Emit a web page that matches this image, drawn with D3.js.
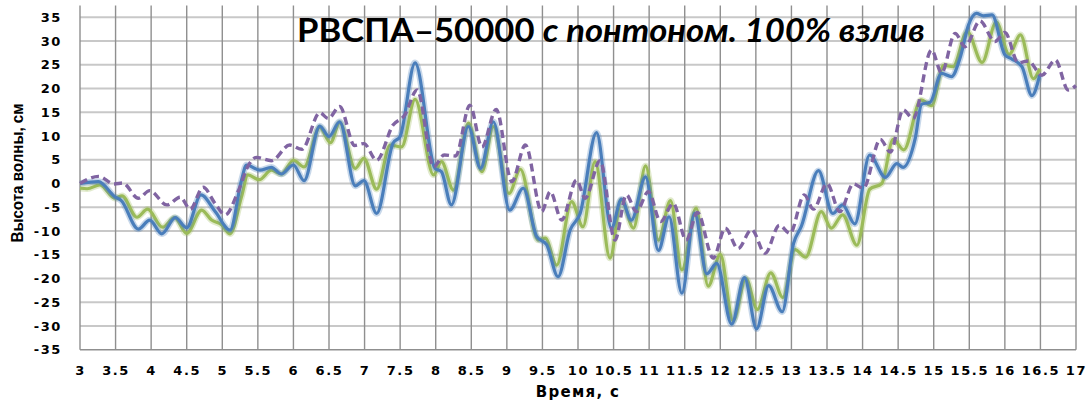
<!DOCTYPE html>
<html>
<head>
<meta charset="utf-8">
<script src="https://cdn.jsdelivr.net/npm/d3@7"></script>
<style>
  html, body { margin: 0; padding: 0; background: #ffffff; }
  svg { display: block; }
</style>
</head>
<body>
<svg id="chart" width="1090" height="401"></svg>
<script>
// Titles
const titlePlain = "РВСПА–50000 ";
const titleItalic = "с понтоном. 100% взлив";
const xAxisTitle = "Время, с";
const yAxisTitle = "Высота волны, см";

// Axis ticks
const xTicks = [3, 3.5, 4, 4.5, 5, 5.5, 6, 6.5, 7, 7.5, 8, 8.5, 9, 9.5, 10, 10.5,
                11, 11.5, 12, 12.5, 13, 13.5, 14, 14.5, 15, 15.5, 16, 16.5, 17];
const yTicks = [-35, -30, -25, -20, -15, -10, -5, 0, 5, 10, 15, 20, 25, 30, 35];

// Green series: time (s) and wave height (cm)
const greenTime = [3.00, 3.10, 3.28, 3.49, 3.59, 3.80, 3.95, 4.16, 4.33, 4.50, 4.71, 4.85, 4.99, 5.11,
  5.27, 5.36, 5.52, 5.69, 5.83, 6.00, 6.15, 6.37, 6.52, 6.65, 6.87, 6.99, 7.17, 7.36, 7.52, 7.71,
  7.97, 8.08, 8.25, 8.46, 8.65, 8.81, 9.03, 9.19, 9.44, 9.54, 9.70, 9.91, 10.07, 10.24, 10.45,
  10.61, 10.78, 10.95, 11.13, 11.30, 11.46, 11.66, 11.83, 12.00, 12.18, 12.36, 12.52, 12.71,
  12.88, 13.05, 13.20, 13.42, 13.56, 13.72, 13.92, 14.10, 14.27, 14.43, 14.58, 14.82, 14.97,
  15.14, 15.27, 15.47, 15.68, 15.88, 16.06, 16.22, 16.40, 16.49];
const greenHeight = [-1.0, -1.1, -0.3, -3.1, -2.6, -7.1, -5.4, -9.2, -7.2, -10.5, -5.6, -7.7, -8.7, -10.6,
  -2.8, 1.8, 0.8, 2.8, 2.0, 4.9, 3.5, 11.8, 8.6, 12.8, 3.2, 5.3, -1.2, 8.1, 7.7, 17.7,
  1.8, 4.6, -1.4, 12.7, 2.5, 12.0, -2.1, 3.0, -11.9, -11.5, -17.2, -3.8, -9.1, 4.6, -15.7,
  -3.5, -9.4, 3.7, -11.9, -3.6, -18.2, -5.2, -21.6, -14.9, -28.9, -20.0, -26.5, -18.8,
  -24.0, -13.9, -15.5, -5.9, -9.4, -6.6, -13.0, -1.2, 0.0, 9.3, 7.1, 17.6, 16.4,
  24.9, 24.6, 32.0, 25.5, 34.0, 27.2, 31.3, 22.1, 24.2];

// Blue series
const blueTime = [3.00, 3.26, 3.49, 3.58, 3.82, 3.98, 4.15, 4.34, 4.50, 4.70, 4.90, 5.11, 5.27, 5.34,
  5.53, 5.69, 5.83, 6.00, 6.15, 6.37, 6.50, 6.65, 6.87, 6.99, 7.17, 7.40, 7.50, 7.71, 7.99,
  8.08, 8.22, 8.46, 8.63, 8.81, 9.04, 9.23, 9.42, 9.56, 9.72, 9.89, 10.03, 10.26, 10.47, 10.61,
  10.75, 10.95, 11.13, 11.28, 11.46, 11.64, 11.81, 11.95, 12.16, 12.34, 12.51, 12.68, 12.87,
  13.03, 13.14, 13.38, 13.58, 13.72, 13.89, 14.10, 14.32, 14.48, 14.57, 14.74, 14.83, 14.95,
  15.11, 15.25, 15.37, 15.49, 15.60, 15.70, 15.82, 16.00, 16.10, 16.24, 16.38, 16.49];
const blueHeight = [0.0, 0.4, -2.8, -3.6, -9.6, -7.7, -10.6, -7.2, -9.3, -2.4, -5.9, -9.8, 0.7, 3.9,
  2.8, 3.4, 2.0, 3.9, 0.6, 12.1, 9.9, 13.0, -0.5, 0.6, -6.3, 8.5, 9.9, 25.4, 3.2,
  2.5, -4.5, 12.0, 3.2, 13.0, -5.6, -1.0, -11.2, -12.9, -19.6, -9.8, -6.3, 10.7, -9.4, -3.3,
  -7.7, 1.4, -14.1, -7.0, -23.1, -6.3, -19.0, -16.8, -29.6, -19.8, -30.6, -21.5, -27.0,
  -12.6, -9.0, 2.7, -6.3, -4.5, -8.5, 6.0, 1.3, 4.2, 3.4, 9.5, 16.7, 17.1,
  23.2, 22.5, 26.4, 33.4, 35.8, 35.3, 35.5, 27.1, 26.2, 24.6, 18.5, 22.8];

// Purple (dashed) series
const purpleTime = [3.00, 3.26, 3.48, 3.60, 3.82, 3.98, 4.22, 4.41, 4.55, 4.73, 4.90, 5.04, 5.23, 5.37,
  5.48, 5.69, 5.95, 6.12, 6.37, 6.49, 6.65, 6.86, 6.99, 7.17, 7.40, 7.56, 7.74, 7.97, 8.12,
  8.28, 8.48, 8.65, 8.85, 9.07, 9.26, 9.49, 9.61, 9.77, 9.98, 10.10, 10.31, 10.52, 10.68,
  10.82, 10.99, 11.16, 11.34, 11.52, 11.68, 11.90, 12.07, 12.25, 12.44, 12.63, 12.83, 12.98,
  13.18, 13.31, 13.50, 13.68, 13.87, 14.01, 14.25, 14.39, 14.57, 14.71, 14.97, 15.11, 15.30,
  15.44, 15.65, 15.86, 16.00, 16.19, 16.33, 16.52, 16.71, 16.89, 17.00];
const purpleHeight = [0.0, 1.5, -0.1, 0.1, -3.1, -1.5, -4.5, -2.9, -5.4, -0.8, -4.2, -6.6, -1.4, 3.9,
  5.5, 4.8, 8.1, 7.2, 14.9, 13.7, 16.2, 8.0, 8.4, 4.9, 12.3, 14.3, 19.7, 3.5, 6.0,
  5.8, 16.5, 7.7, 15.6, 0.4, 8.1, -5.9, -1.7, -7.7, 0.7, -3.1, 4.8, -11.9, -2.4,
  -5.9, -1.7, -8.0, -4.2, -11.9, -6.1, -15.7, -9.4, -13.7, -9.7, -14.7, -8.8, -10.5,
  -2.4, -5.4, 0.0, -5.9, -0.1, -1.0, 9.3, 6.6, 15.5, 13.7, 28.1, 23.3, 31.6,
  28.8, 34.2, 29.9, 31.8, 25.4, 25.8, 22.8, 26.0, 19.7, 20.6];

const svg = d3.select("#chart");
svg.append("rect").attr("width", 1090).attr("height", 401).attr("fill", "#ffffff");

const x = d3.scaleLinear().domain([3, 17]).range([80, 1076]);
const y = d3.scaleLinear().domain([-35, 37.5]).range([349.75, 5.4]);

// Horizontal gridlines (lighter, thicker)
svg.append("g").selectAll("line")
  .data(yTicks.filter(v => v > -35))
  .join("line")
  .attr("x1", x(3)).attr("x2", x(17))
  .attr("y1", d => y(d)).attr("y2", d => y(d))
  .attr("stroke", "#c8c8c8").attr("stroke-width", 2);

// Vertical gridlines
svg.append("g").selectAll("line")
  .data(xTicks)
  .join("line")
  .attr("x1", d => x(d)).attr("x2", d => x(d))
  .attr("y1", y(37.5)).attr("y2", y(-35))
  .attr("stroke", "#8f8f8f").attr("stroke-width", 1.4);

// Bottom axis line
svg.append("line")
  .attr("x1", x(3)).attr("x2", x(17))
  .attr("y1", y(-35)).attr("y2", y(-35))
  .attr("stroke", "#8f8f8f").attr("stroke-width", 1.6);

const tickFont = "'DejaVu Sans', Verdana, sans-serif";

// X axis labels
const xAxis = svg.append("g")
  .attr("transform", `translate(0,${y(-35)})`)
  .call(d3.axisBottom(x).tickValues(xTicks).tickSize(0).tickPadding(16).tickFormat(d => String(d)));
xAxis.select(".domain").remove();
xAxis.selectAll("text")
  .attr("font-family", tickFont).attr("font-weight", "bold").attr("font-size", 13)
  .attr("letter-spacing", 1.6).attr("fill", "#000");

// Y axis labels
const yAxis = svg.append("g")
  .attr("transform", `translate(${x(3)},0)`)
  .call(d3.axisLeft(y).tickValues(yTicks).tickSize(0).tickPadding(18).tickFormat(d => String(d)));
yAxis.select(".domain").remove();
yAxis.selectAll("text")
  .attr("font-family", tickFont).attr("font-weight", "bold").attr("font-size", 13)
  .attr("letter-spacing", 1.6).attr("fill", "#000");

// Axis titles
svg.append("text")
  .attr("x", 578).attr("y", 397)
  .attr("text-anchor", "middle")
  .attr("font-family", tickFont).attr("font-weight", "bold").attr("font-size", 15)
  .attr("letter-spacing", 1.3)
  .text(xAxisTitle);

svg.append("text")
  .attr("transform", "translate(22.5,173) rotate(-90)")
  .attr("text-anchor", "middle")
  .attr("font-family", "'Liberation Sans', Arial, sans-serif").attr("font-weight", "bold")
  .attr("font-size", 17)
  .attr("textLength", 139).attr("lengthAdjust", "spacingAndGlyphs")
  .text(yAxisTitle);

// Series lines
const line = d3.line()
  .x(d => x(d[0]))
  .y(d => y(d[1]))
  .curve(d3.curveMonotoneX);

const series = [
  { name: "green", pts: d3.zip(greenTime, greenHeight), color: "#9bbb59", dash: null },
  { name: "blue", pts: d3.zip(blueTime, blueHeight), color: "#4a7ebb", dash: null },
  { name: "purple", pts: d3.zip(purpleTime, purpleHeight), color: "#8064a2", dash: "8,4.5" }
];

const lines = svg.append("g");
series.forEach(s => {
  if (!s.dash) {
    lines.append("path")
      .attr("d", line(s.pts))
      .attr("fill", "none")
      .attr("stroke", s.color)
      .attr("stroke-opacity", 0.3)
      .attr("stroke-width", 6.5)
      .attr("stroke-linejoin", "round");
  }
  lines.append("path")
    .attr("d", line(s.pts))
    .attr("fill", "none")
    .attr("stroke", s.color)
    .attr("stroke-width", s.dash ? 3.4 : 3.2)
    .attr("stroke-linejoin", "round")
    .attr("stroke-dasharray", s.dash);
});

// Chart title
const title = svg.append("text")
  .attr("x", 297).attr("y", 42)
  .attr("font-family", "Lato, 'Open Sans', sans-serif")
  .attr("font-weight", "bold")
  .attr("font-size", 32)
  .attr("textLength", 628).attr("lengthAdjust", "spacingAndGlyphs")
  .attr("fill", "#000");
title.append("tspan").text(titlePlain);
title.append("tspan").attr("font-style", "italic").text(titleItalic);
</script>
</body>
</html>
